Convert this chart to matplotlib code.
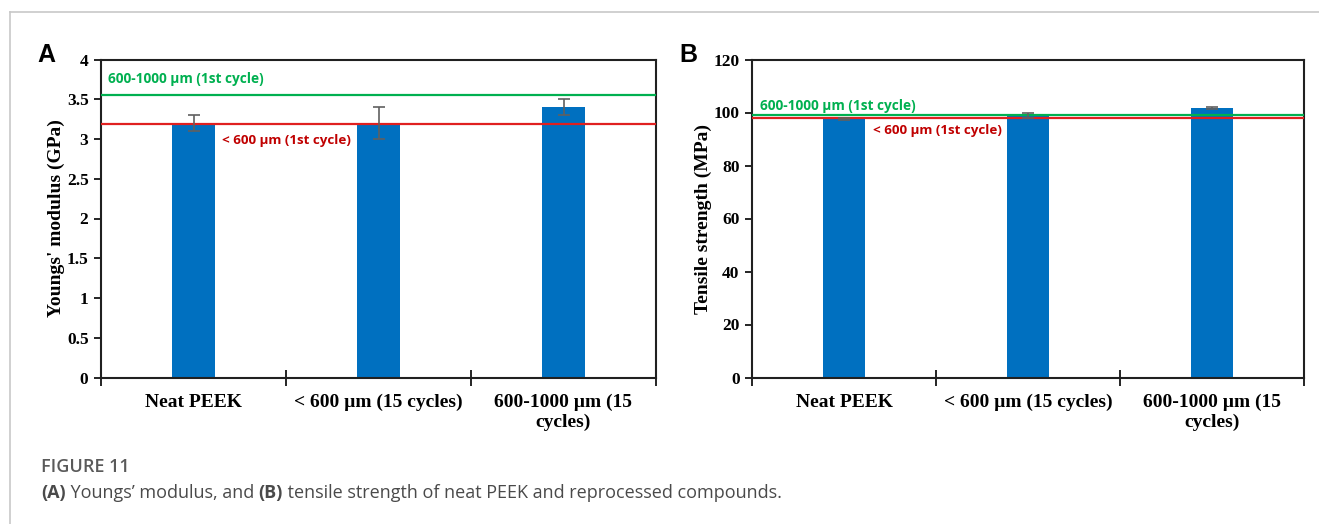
import numpy as np
import matplotlib.pyplot as plt
from matplotlib.lines import Line2D

categories = ['Neat PEEK', '< 600 µm (15 cycles)', '600-1000 µm (15\ncycles)']

modulus = [3.2, 3.2, 3.4]
modulus_err = [0.1, 0.2, 0.1]
modulus_ref_large = 3.555   # 600-1000 µm (1st cycle)
modulus_ref_small = 3.185   # < 600 µm (1st cycle)

strength = [97.6, 98.9, 101.7]
strength_err = [0.3, 1.0, 0.5]
strength_ref_large = 99.2
strength_ref_small = 97.8

bar_color = '#0070c0'
green = '#00b050'
red_line = '#e02020'
red_text = '#c00000'
serif = ['Liberation Serif', 'DejaVu Serif']
sans = ['Open Sans', 'DejaVu Sans']

fig = plt.figure(figsize=(13.19, 5.24), dpi=100)

# card border (top and left)
fig.add_artist(Line2D([10 / 1319, 1], [1 - 12 / 524, 1 - 12 / 524], color='#c8c8c8', lw=1.2))
fig.add_artist(Line2D([10 / 1319, 10 / 1319], [0, 1 - 12 / 524], color='#c8c8c8', lw=1.2))


def panel(rect, values, errs, ylim, yticks, ylabel, ref_large, ref_small,
          lab_large_xy, lab_small_xy):
    ax = fig.add_axes(rect)
    x = np.arange(len(categories))
    ax.bar(x, values, width=0.23, color=bar_color, zorder=2)
    ax.errorbar(x, values, yerr=errs, fmt='none', ecolor='#606060', elinewidth=1.2,
                capsize=4, capthick=1.2, zorder=4)
    ax.axhline(ref_large, color=green, lw=1.6, zorder=3)
    ax.axhline(ref_small, color=red_line, lw=1.6, zorder=3)
    ax.set_xlim(-0.5, len(categories) - 0.5)
    ax.set_ylim(*ylim)
    ax.set_yticks(yticks)
    ax.set_yticklabels([f'{v:g}' for v in yticks], fontfamily=serif,
                       fontweight='bold', fontsize=12.5)
    ax.set_xticks(x)
    ax.set_xticklabels(categories, fontfamily=serif, fontweight='bold', fontsize=14,
                       linespacing=1.2)
    ax.set_xticks(np.arange(len(categories) + 1) - 0.5, minor=True)
    ax.tick_params(axis='x', which='major', length=0, pad=12)
    ax.tick_params(axis='x', which='minor', length=12, direction='inout', width=1.2)
    ax.tick_params(axis='y', length=5, width=1.2, direction='out', pad=4)
    for s in ax.spines.values():
        s.set_linewidth(1.5)
        s.set_color('#202020')
    ax.set_ylabel(ylabel, fontfamily=serif, fontweight='bold', fontsize=14, labelpad=1)
    ax.text(*lab_large_xy, '600-1000 µm (1st cycle)', transform=ax.transAxes,
            color=green, fontfamily=sans, fontweight='bold', fontsize=9.8, va='center')
    ax.text(*lab_small_xy, '< 600 µm (1st cycle)', transform=ax.transAxes,
            color=red_text, fontfamily=sans, fontweight='bold', fontsize=9.6, va='center')
    return ax


# panel A: axes x 101..656, y 59.5..377.5 px
axA = panel([101 / 1319, 1 - 377.5 / 524, 555 / 1319, 318 / 524],
            modulus, modulus_err, (0, 4), np.arange(0, 4.01, 0.5),
            "Youngs' modulus (GPa)",
            modulus_ref_large, modulus_ref_small,
            (0.012, 0.94), (0.218, 0.745))

# panel B: axes x 752..1304
axB = panel([752 / 1319, 1 - 377.5 / 524, 552 / 1319, 318 / 524],
            strength, strength_err, (0, 120), np.arange(0, 121, 20),
            'Tensile strength (MPa)',
            strength_ref_large, strength_ref_small,
            (0.015, 0.855), (0.22, 0.777))

fig.text(37 / 1319, 1 - 55 / 524, 'A', fontfamily=['Liberation Sans', 'DejaVu Sans'],
         fontweight='bold', fontsize=18, va='center')
fig.text(679 / 1319, 1 - 55 / 524, 'B', fontfamily=['Liberation Sans', 'DejaVu Sans'],
         fontweight='bold', fontsize=18, va='center')

# caption
fig.text(41 / 1319, 1 - 467 / 524, 'FIGURE 11', fontfamily=sans, fontweight='semibold',
         fontsize=13, color='#5a5a5a', va='center')
cap_y = 1 - 493 / 524
t = fig.text(41 / 1319, cap_y, '(A)', fontfamily=sans, fontweight='bold', fontsize=13,
             color='#4a4a4a', va='center')
fig.canvas.draw()
r = fig.canvas.get_renderer()


def after(prev, s, bold=False):
    bb = prev.get_window_extent(renderer=r)
    x0 = bb.x1 / fig.bbox.width
    return fig.text(x0, cap_y, s, fontfamily=sans, fontweight='bold' if bold else 'normal',
                    fontsize=13, color='#4a4a4a', va='center')


t = after(t, ' Youngs\u2019 modulus, and ')
t = after(t, '(B)', bold=True)
t = after(t, ' tensile strength of neat PEEK and reprocessed compounds.')

fig.savefig('out.png', dpi=100)
